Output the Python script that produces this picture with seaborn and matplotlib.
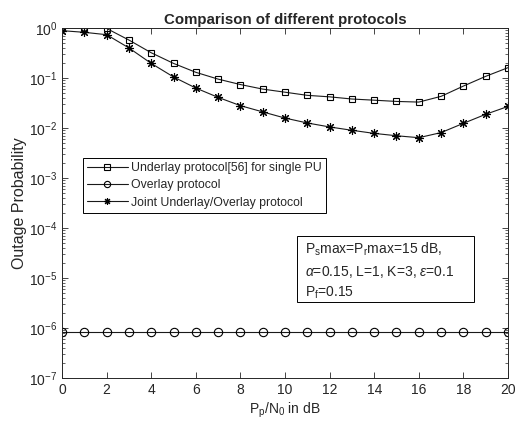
import numpy as np
import pandas as pd
import matplotlib
matplotlib.use("Agg")
import matplotlib.pyplot as plt
import matplotlib.patches as mpatches
import seaborn as sns

snr_db = list(range(0, 21))
underlay = [1.0, 1.0, 0.98, 0.575, 0.32, 0.196, 0.13, 0.095, 0.074, 0.060, 0.052,
            0.045, 0.042, 0.038, 0.036, 0.034, 0.033, 0.043, 0.069, 0.108, 0.161]
overlay = [8.2e-7] * 21
joint = [0.885, 0.82, 0.735, 0.40, 0.196, 0.105, 0.063, 0.041, 0.028, 0.021, 0.0158,
         0.0126, 0.0105, 0.0090, 0.0078, 0.0070, 0.0064, 0.0081, 0.0124, 0.0188, 0.027]
labels = ["Underlay protocol[56] for single PU", "Overlay protocol",
          "Joint Underlay/Overlay protocol"]

sns.set_style("ticks")
plt.rcParams['font.family'] = ['Liberation Sans', 'DejaVu Sans']
plt.rcParams['mathtext.fontset'] = 'custom'
plt.rcParams['mathtext.rm'] = 'Liberation Sans'
plt.rcParams['mathtext.it'] = 'Liberation Sans:italic'

fig = plt.figure(figsize=(5.15, 4.25), dpi=100)
ax = fig.add_axes([0.1204, 0.1106, 0.866, 0.8235])

styles = [dict(marker='s', markerfacecolor='none', markersize=5),
          dict(marker='o', markerfacecolor='none', markersize=6),
          dict(marker=(8, 2, 0), markerfacecolor='k', markersize=6.5)]
for vals, lab, st in zip([underlay, overlay, joint], labels, styles):
    df = pd.DataFrame({"x": snr_db, "y": vals})
    sns.lineplot(data=df, x="x", y="y", ax=ax, color='#1a1a1a', linewidth=0.8,
                 markeredgecolor='k', markeredgewidth=0.8,
                 label=lab, **st)

ax.set_yscale('log')
ax.set_xlim(0, 20)
ax.set_ylim(1e-7, 1)
ax.set_xticks(range(0, 21, 2))
ax.set_yticks([10.0**k for k in range(-7, 1)])
ax.tick_params(which='both', direction='in', top=True, right=True, labelsize=10)
ax.tick_params(which='major', length=4, width=0.6)
ax.tick_params(which='minor', length=2, width=0.5)
for s in ax.spines.values():
    s.set_linewidth(0.7)
ax.set_xlabel("P$_\\mathregular{p}$/N$_\\mathregular{0}$ in dB", fontsize=10, labelpad=3)
ax.set_ylabel("Outage Probability", fontsize=11.5, labelpad=1)
ax.set_title("Comparison of different protocols", fontsize=10.8, fontweight='bold', pad=3)

leg = ax.legend(loc='upper left', bbox_to_anchor=(0.047, 0.6286), fontsize=8.8,
                frameon=True, fancybox=False, edgecolor='k', framealpha=1,
                handlelength=3.3, borderpad=0.35, labelspacing=0.42, handletextpad=0.3,
                borderaxespad=0, markerscale=0.75)
leg.get_frame().set_linewidth(0.7)

# annotation box
ax.add_patch(mpatches.Rectangle((0.527, 0.217), 0.397, 0.189, transform=ax.transAxes,
                                facecolor='white', edgecolor='k', linewidth=0.7, zorder=5))
ax.text(0.545, 0.392,
        "P$_\\mathregular{s}$max=P$_\\mathregular{r}$max=15 dB,\n"
        "$\\alpha$=0.15, L=1, K=3, $\\epsilon$=0.1\n"
        "P$_\\mathregular{f}$=0.15",
        transform=ax.transAxes, fontsize=10, va='top', ha='left', linespacing=1.45,
        zorder=6)

fig.savefig("out.png", dpi=100)
